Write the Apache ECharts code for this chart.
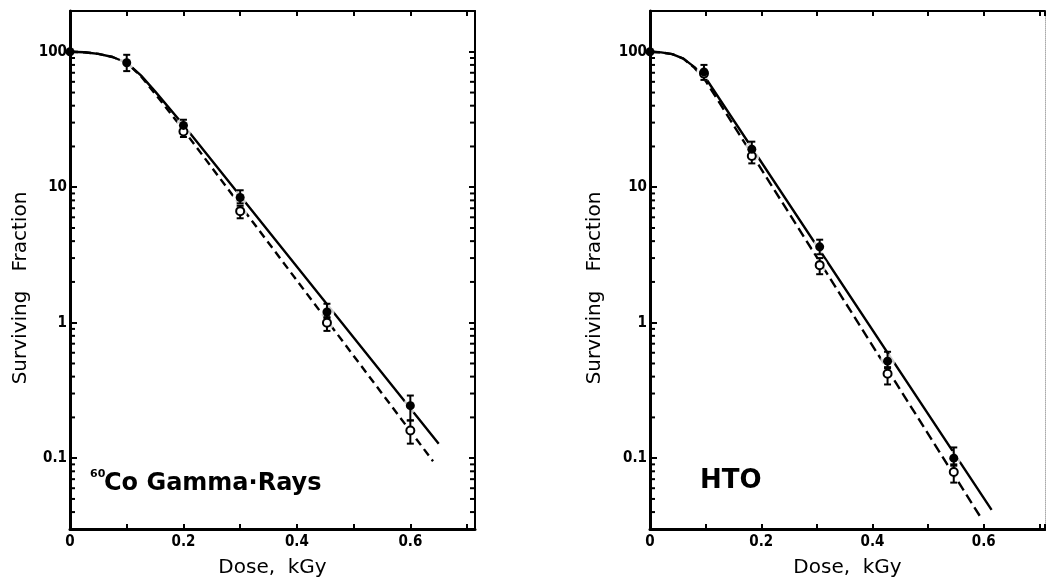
<!DOCTYPE html>
<html>
<head>
<meta charset="utf-8">
<title>Surviving fraction vs dose</title>
<script src="https://cdn.jsdelivr.net/npm/echarts@6/dist/echarts.min.js"></script>
<style>
  html, body { margin: 0; padding: 0; background: #fff; }
  #chart { width: 1046px; height: 586px; }
</style>
</head>
<body>
<div id="chart"></div>
<script>
// 60Co gamma rays (left panel): [dose kGy, surviving %]
const coFilled = [[0, 100], [0.1, 83], [0.2, 28.6], [0.3, 8.4], [0.453, 1.2], [0.6, 0.244]];
const coOpen = [[0.2, 25.8], [0.3, 6.66], [0.453, 1.0], [0.6, 0.16]];
// [dose, low, high]
const coFilledErr = [[0.1, 72, 95], [0.2, 26, 31.5], [0.3, 7.6, 9.5], [0.453, 1.08, 1.38], [0.6, 0.19, 0.29]];
const coOpenErr = [[0.2, 23.5, 27], [0.3, 5.9, 7.3], [0.453, 0.87, 1.1], [0.6, 0.128, 0.19]];
// fitted curves
const coFitFilled = [[0, 100], [0.025, 99.2], [0.05, 96.5], [0.075, 91.5], [0.1, 83], [0.125, 67], [0.15, 51], [0.2, 28.8], [0.65, 0.128]];
const coFitOpen = [[0, 100], [0.025, 99.2], [0.05, 96.5], [0.075, 91.5], [0.1, 83], [0.125, 66], [0.15, 49], [0.2, 26.5], [0.64, 0.095]];

// HTO (right panel)
const htoFilled = [[0, 100], [0.097, 71], [0.183, 19.1], [0.305, 3.63], [0.427, 0.52], [0.546, 0.1]];
const htoOpen = [[0.097, 69], [0.183, 17], [0.305, 2.66], [0.427, 0.42], [0.546, 0.079]];
const htoFilledErr = [[0.097, 62, 80], [0.183, 17.5, 21.7], [0.305, 3.2, 4.1], [0.427, 0.46, 0.61], [0.546, 0.09, 0.12]];
const htoOpenErr = [[0.183, 15, 18.5], [0.305, 2.28, 3.0], [0.427, 0.35, 0.47], [0.546, 0.066, 0.088]];
const htoFitFilled = [[0, 100], [0.02, 99], [0.04, 96], [0.06, 89], [0.08, 77], [0.1, 64], [0.614, 0.0415]];
const htoFitOpen = [[0, 100], [0.02, 99], [0.04, 96], [0.06, 89], [0.08, 76], [0.1, 61], [0.594, 0.0368]];

// axis ranges / minor ticks of the log axis
const yMin = 0.03;
const yMax = 200;
const leftXMax = 0.714;
const rightXMax = 0.71;
const minorTicks = [0.04, 0.05, 0.06, 0.07, 0.08, 0.09,
  0.2, 0.3, 0.4, 0.5, 0.6, 0.7, 0.8, 0.9,
  2, 3, 4, 5, 6, 7, 8, 9,
  20, 30, 40, 50, 60, 70, 80, 90];

const INK = '#000';
const TICK_FONT = '"DejaVu Sans Condensed", "DejaVu Sans", sans-serif';
const TITLE_FONT = '"DejaVu Sans", sans-serif';

function doseLabel(v) {
  // only every 0.2 kGy carries a label
  if (Math.abs(v * 5 - Math.round(v * 5)) > 1e-6) return '';
  return v === 0 ? '0' : v.toFixed(1);
}

function survLabel(v) {
  const l = Math.log10(v);
  if (Math.abs(l - Math.round(l)) > 1e-6) return '';
  return String(Math.pow(10, Math.round(l)) >= 1 ? Math.round(v) : v);
}

function bottomAxis(gi, xMax) {
  return {
    type: 'value', gridIndex: gi, position: 'bottom', min: 0, max: xMax, interval: 0.1,
    axisLine: { show: true, onZero: false, lineStyle: { color: INK, width: 3 } },
    axisTick: { show: true, inside: true, length: 5, lineStyle: { color: INK, width: 2 } },
    axisLabel: { margin: 6, color: INK, fontSize: 15, fontWeight: 'bold', fontFamily: TICK_FONT, formatter: doseLabel },
    splitLine: { show: false },
    name: 'Dose,  kGy', nameLocation: 'middle', nameGap: 29,
    nameTextStyle: { color: INK, fontSize: 20, fontFamily: TITLE_FONT }
  };
}

function topAxis(gi, xMax) {
  return {
    type: 'value', gridIndex: gi, position: 'top', min: 0, max: xMax, interval: 0.1,
    axisLine: { show: true, onZero: false, lineStyle: { color: INK, width: 2 } },
    axisTick: { show: true, inside: true, length: 5, lineStyle: { color: INK, width: 2 } },
    axisLabel: { show: false },
    splitLine: { show: false }
  };
}

function leftLogAxis(gi) {
  return {
    type: 'log', logBase: 10, gridIndex: gi, position: 'left', min: yMin, max: yMax,
    axisLine: { show: true, onZero: false, lineStyle: { color: INK, width: 3 } },
    axisTick: { show: true, inside: true, length: 7, lineStyle: { color: INK, width: 2 } },
    axisLabel: { margin: 3, color: INK, fontSize: 15, fontWeight: 'bold', fontFamily: TICK_FONT, formatter: survLabel },
    splitLine: { show: false }
  };
}

function rightLogAxis(gi, faint) {
  return {
    type: 'log', logBase: 10, gridIndex: gi, position: 'right', min: yMin, max: yMax,
    axisLine: {
      show: true, onZero: false,
      lineStyle: faint ? { color: '#aaa', width: 1, type: 'dotted' } : { color: INK, width: 2 }
    },
    axisTick: { show: !faint, inside: true, length: 6, lineStyle: { color: INK, width: 2 } },
    axisLabel: { show: false },
    splitLine: { show: false }
  };
}

function renderErr(params, api) {
  const x = api.value(0);
  const lo = api.coord([x, api.value(1)]);
  const hi = api.coord([x, api.value(2)]);
  const w = 3.5;
  const style = { stroke: INK, lineWidth: 2 };
  return {
    type: 'group',
    children: [
      { type: 'line', shape: { x1: lo[0], y1: lo[1], x2: hi[0], y2: hi[1] }, style },
      { type: 'line', shape: { x1: lo[0] - w, y1: lo[1], x2: lo[0] + w, y2: lo[1] }, style },
      { type: 'line', shape: { x1: hi[0] - w, y1: hi[1], x2: hi[0] + w, y2: hi[1] }, style }
    ]
  };
}

function minorTickSeries(xi, yi, xMax, bothSides) {
  return {
    type: 'custom', xAxisIndex: xi, yAxisIndex: yi, silent: true, z: 5,
    data: minorTicks.map(v => [0, v]),
    renderItem: (params, api) => {
      const v = api.value(1);
      const a = api.coord([0, v]);
      const b = api.coord([xMax, v]);
      const style = { stroke: INK, lineWidth: 2 };
      const children = [{ type: 'line', shape: { x1: a[0], y1: a[1], x2: a[0] + 5, y2: a[1] }, style }];
      if (bothSides) {
        children.push({ type: 'line', shape: { x1: b[0] - 5, y1: b[1], x2: b[0], y2: b[1] }, style });
      }
      return { type: 'group', children };
    }
  };
}

function panelSeries(xi, yi, xMax, d) {
  const onPanel = { xAxisIndex: xi, yAxisIndex: yi };
  const fitLine = (data, dash) => Object.assign({
    type: 'line', data, symbol: 'none', smooth: false, z: 1,
    lineStyle: { color: INK, width: 2.4, type: dash ? d.dash : 'solid', join: 'round' }
  }, onPanel);
  return [
    fitLine(d.fitFilled, false),
    fitLine(d.fitOpen, true),
    // white halo behind the markers, gives the gaps in the lines
    Object.assign({
      type: 'scatter', symbolSize: 15, z: 2, itemStyle: { color: '#fff' },
      data: d.filled.concat(d.open).filter(p => p[0] > 0)
    }, onPanel),
    Object.assign({ type: 'custom', renderItem: renderErr, encode: { x: 0, y: [1, 2] }, data: d.filledErr, z: 3 }, onPanel),
    Object.assign({ type: 'custom', renderItem: renderErr, encode: { x: 0, y: [1, 2] }, data: d.openErr, z: 3 }, onPanel),
    Object.assign({
      type: 'scatter', symbol: 'circle', symbolSize: 8, z: 4, data: d.open,
      itemStyle: { color: '#fff', borderColor: INK, borderWidth: 2, opacity: 1 }
    }, onPanel),
    Object.assign({
      type: 'scatter', symbol: 'circle', symbolSize: 9, z: 4, data: d.filled,
      itemStyle: { color: INK, opacity: 1 }
    }, onPanel),
    minorTickSeries(xi, yi, xMax, d.bothSides)
  ];
}

const chart = echarts.init(document.getElementById('chart'), null, { renderer: 'canvas' });

chart.setOption({
  backgroundColor: '#fff',
  animation: false,
  grid: [
    { left: 70, top: 11, width: 405, height: 518, outerBoundsMode: 'none' },
    { left: 650, top: 11, width: 395, height: 518, outerBoundsMode: 'none' }
  ],
  xAxis: [bottomAxis(0, leftXMax), topAxis(0, leftXMax), bottomAxis(1, rightXMax), topAxis(1, rightXMax)],
  yAxis: [leftLogAxis(0), rightLogAxis(0, false), leftLogAxis(1), rightLogAxis(1, true)],
  series: [].concat(
    panelSeries(0, 0, leftXMax, {
      filled: coFilled, open: coOpen, filledErr: coFilledErr, openErr: coOpenErr,
      fitFilled: coFitFilled, fitOpen: coFitOpen, dash: [8, 5], bothSides: true
    }),
    panelSeries(2, 2, rightXMax, {
      filled: htoFilled, open: htoOpen, filledErr: htoFilledErr, openErr: htoOpenErr,
      fitFilled: htoFitFilled, fitOpen: htoFitOpen, dash: [10, 5], bothSides: false
    })
  ),
  graphic: [
    {
      type: 'text', x: 21, y: 288, rotation: Math.PI / 2,
      style: { text: 'Surviving   Fraction', font: '20px ' + TITLE_FONT, fill: INK,
        align: 'center', verticalAlign: 'middle', textAlign: 'center', textVerticalAlign: 'middle' }
    },
    {
      type: 'text', x: 595, y: 288, rotation: Math.PI / 2,
      style: { text: 'Surviving   Fraction', font: '20px ' + TITLE_FONT, fill: INK,
        align: 'center', verticalAlign: 'middle', textAlign: 'center', textVerticalAlign: 'middle' }
    },
    {
      type: 'text', x: 90, y: 474,
      style: { text: '60', font: 'bold 11px ' + TITLE_FONT, fill: INK,
        align: 'left', verticalAlign: 'middle', textAlign: 'left', textVerticalAlign: 'middle' }
    },
    {
      type: 'text', x: 104, y: 484,
      style: { text: 'Co Gamma·Rays', font: 'bold 24px ' + TITLE_FONT, fill: INK,
        align: 'left', verticalAlign: 'middle', textAlign: 'left', textVerticalAlign: 'middle' }
    },
    {
      type: 'text', x: 700, y: 481,
      style: { text: 'HTO', font: 'bold 26px ' + TITLE_FONT, fill: INK,
        align: 'left', verticalAlign: 'middle', textAlign: 'left', textVerticalAlign: 'middle' }
    }
  ]
});
</script>
</body>
</html>
